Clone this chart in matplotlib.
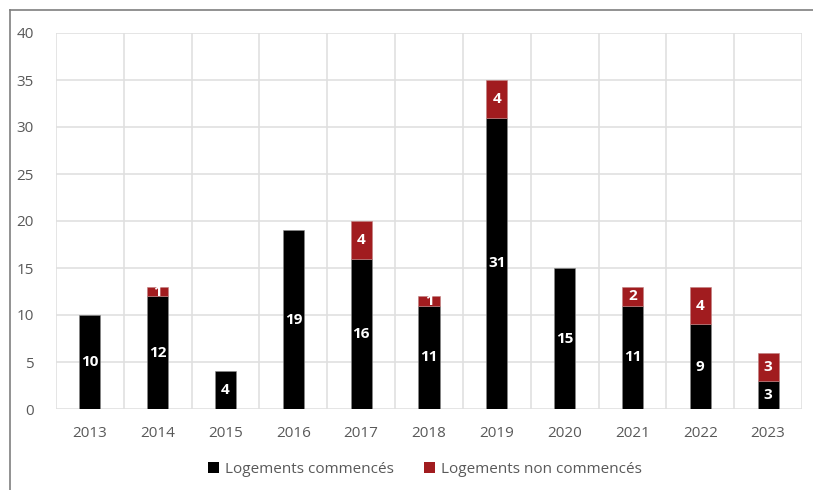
import matplotlib
matplotlib.use("Agg")
import matplotlib.pyplot as plt
from matplotlib import font_manager

years = ["2013", "2014", "2015", "2016", "2017", "2018", "2019", "2020", "2021", "2022", "2023"]
commences = [10, 12, 4, 19, 16, 11, 31, 15, 11, 9, 3]
non_commences = [0, 1, 0, 0, 4, 1, 4, 0, 2, 4, 3]

available = {f.name for f in font_manager.fontManager.ttflist}
family = [f for f in ["Liberation Sans Narrow", "Open Sans", "DejaVu Sans"] if f in available]
plt.rcParams["font.family"] = family

BLACK = "#000000"
RED = "#A11C1F"
GRID = "#E0E0E0"
TICK = "#595959"

fig = plt.figure(figsize=(8.13, 4.90), dpi=100)
ax = fig.add_axes([56 / 813, 1 - 409 / 490, (802 - 56) / 813, (409 - 33) / 490])

x = list(range(len(years)))
w = 0.31
ax.bar(x, commences, width=w, color=BLACK, edgecolor="#8a8a8a", linewidth=0.4,
       label="Logements commencés", zorder=3)
red_edges = ["#c08080" if n else "none" for n in non_commences]
ax.bar(x, non_commences, width=w, bottom=commences, color=RED, edgecolor=red_edges,
       linewidth=0.4, label="Logements non commencés", zorder=3)

for xi, c, n in zip(x, commences, non_commences):
    if c:
        ax.text(xi, c / 2, str(c), ha="center", va="center", color="white",
                fontsize=11, fontweight="bold", zorder=4)
    if n:
        ax.text(xi, c + n / 2, str(n), ha="center", va="center", color="white",
                fontsize=11, fontweight="bold", zorder=4)

ax.set_xlim(-0.5, len(years) - 0.5)
ax.set_ylim(0, 40)
ax.set_yticks(range(0, 41, 5))
ax.set_xticks(x)
ax.set_xticklabels(years)
ax.set_xticks([i + 0.5 for i in range(-1, len(years))], minor=True)
ax.grid(False)
ax.yaxis.grid(True, color=GRID, linewidth=1.2, zorder=0)
ax.xaxis.grid(True, which="minor", color=GRID, linewidth=1.2, zorder=0)
ax.set_axisbelow(True)
for s in ax.spines.values():
    s.set_visible(False)
ax.tick_params(axis="both", which="both", length=0, colors=TICK, labelsize=11)
ax.tick_params(axis="y", pad=16)
ax.tick_params(axis="x", pad=12)

leg = fig.legend(loc="center", bbox_to_anchor=(425 / 813, 1 - 469 / 490), ncol=2,
                 frameon=False, fontsize=11, handlelength=0.7, handleheight=0.7,
                 columnspacing=2.0, handletextpad=0.4)
for t in leg.get_texts():
    t.set_color(TICK)
for h in leg.legend_handles:
    h.set_edgecolor("none")

# outer frame (left and top edges)
fig.add_artist(plt.Line2D([10 / 813, 10 / 813], [0, 1 - 10 / 490], color="#7f7f7f",
                          linewidth=1.2, transform=fig.transFigure))
fig.add_artist(plt.Line2D([10 / 813, 1], [1 - 10 / 490, 1 - 10 / 490], color="#7f7f7f",
                          linewidth=1.2, transform=fig.transFigure))

fig.savefig("out.png", dpi=100)
